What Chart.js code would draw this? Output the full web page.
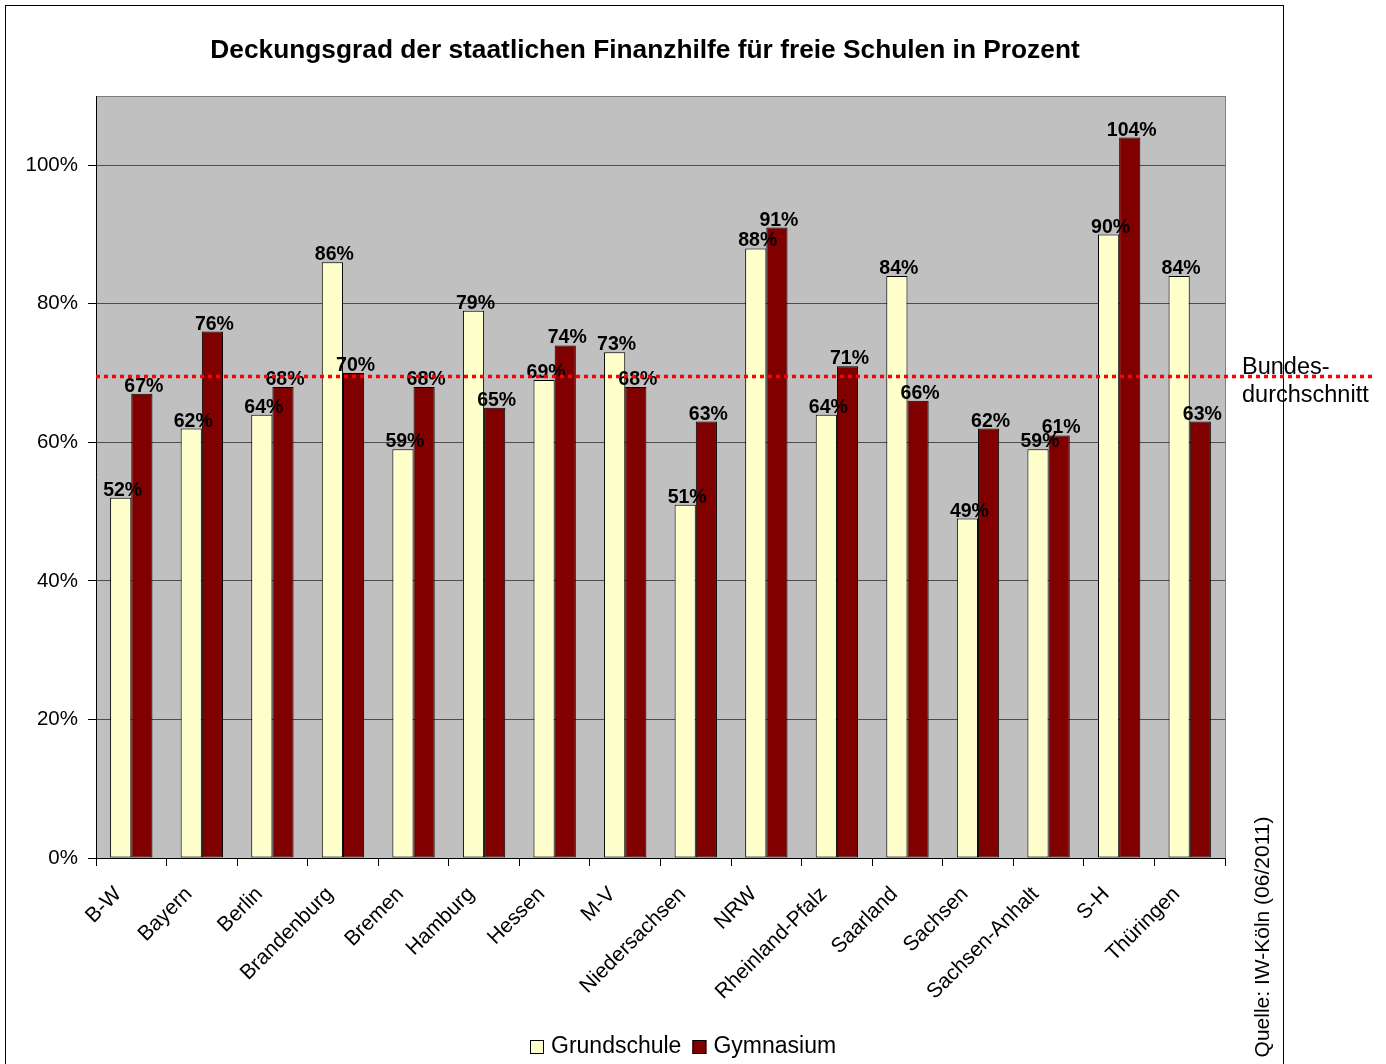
<!DOCTYPE html>
<html><head><meta charset="utf-8">
<script src="https://cdn.jsdelivr.net/npm/chart.js@4"></script>
<style>html,body{margin:0;padding:0;background:#fff}</style>
</head><body>
<canvas id="c" width="1386" height="1064" style="display:block;width:1386px;height:1064px"></canvas>
<script>
const FONT = '"Liberation Sans", Arial, Helvetica, sans-serif';
const title = 'Deckungsgrad der staatlichen Finanzhilfe für freie Schulen in Prozent';
const categories = ['B-W','Bayern','Berlin','Brandenburg','Bremen','Hamburg','Hessen','M-V','Niedersachsen','NRW','Rheinland-Pfalz','Saarland','Sachsen','Sachsen-Anhalt','S-H','Thüringen'];
const seriesNames = ['Grundschule','Gymnasium'];
const grundschule = [52,62,64,86,59,79,69,73,51,88,64,84,49,59,90,84];
const gymnasium   = [67,76,68,70,68,65,74,68,63,91,71,66,62,61,104,63];
const bundesdurchschnitt = 69.5;
const avgLabel = ['Bundes-','durchschnitt'];
const sourceText = 'Quelle: IW-Köln (06/2011)';
const yMin = 0, yMax = 110, yStep = 20;

const colors = ['#ffffcc', '#800000'];

const decor = {
  id: 'decor',
  beforeDraw(chart) {
    const {ctx, chartArea: a} = chart;
    ctx.save();
    ctx.fillStyle = '#ffffff';
    ctx.fillRect(0, 0, chart.width, chart.height);
    ctx.fillStyle = '#c0c0c0';
    ctx.fillRect(a.left, a.top, a.right - a.left, a.bottom - a.top);
    ctx.strokeStyle = '#808080';
    ctx.lineWidth = 1;
    ctx.strokeRect(a.left + 0.5, a.top + 0.5, a.right - a.left, a.bottom - a.top);
    ctx.strokeStyle = '#000';
    ctx.strokeRect(5.5, 5.5, 1278, 1070);
    ctx.restore();
  },
  afterDatasetsDraw(chart) {
    const {ctx, chartArea: a, scales} = chart;
    ctx.save();
    ctx.font = 'bold 19.5px ' + FONT;
    ctx.fillStyle = '#000';
    ctx.textAlign = 'center';
    ctx.textBaseline = 'alphabetic';
    chart.data.datasets.forEach((ds, di) => {
      const meta = chart.getDatasetMeta(di);
      meta.data.forEach((el, i) => {
        ctx.fillText(ds.data[i] + '%', el.x + 2, el.y - 2);
      });
    });
    const y = scales.y.getPixelForValue(bundesdurchschnitt);
    ctx.strokeStyle = '#ff0000';
    ctx.lineWidth = 3.5;
    ctx.setLineDash([4, 4]);
    ctx.beginPath();
    ctx.moveTo(a.left, y);
    ctx.lineTo(1375, y);
    ctx.stroke();
    ctx.setLineDash([]);
    ctx.font = '23.5px ' + FONT;
    ctx.textAlign = 'left';
    ctx.textBaseline = 'middle';
    ctx.fillText(avgLabel[0], 1242, y - 9);
    ctx.fillText(avgLabel[1], 1242, y + 19);
    ctx.restore();
  },
  afterDraw(chart) {
    const {ctx} = chart;
    ctx.save();
    ctx.font = 'bold 26.3px ' + FONT;
    ctx.fillStyle = '#000';
    ctx.textAlign = 'center';
    ctx.textBaseline = 'middle';
    ctx.fillText(title, 645, 51);
    ctx.font = '21px ' + FONT;
    ctx.translate(1263, 937);
    ctx.rotate(-Math.PI / 2);
    ctx.fillText(sourceText, 0, 0);
    ctx.restore();
    ctx.save();
    ctx.font = '23px ' + FONT;
    ctx.textBaseline = 'middle';
    ctx.textAlign = 'left';
    const ly = 1047;
    let x = 530;
    seriesNames.forEach((n, i) => {
      ctx.fillStyle = colors[i];
      ctx.fillRect(x, ly - 7, 14, 14);
      ctx.strokeStyle = '#000';
      ctx.lineWidth = 1;
      ctx.strokeRect(x + 0.5, ly - 6.5, 13, 13);
      ctx.fillStyle = '#000';
      ctx.fillText(n, x + 21, ly);
      x += 21 + ctx.measureText(n).width + 11;
    });
    ctx.restore();
  }
};

new Chart(document.getElementById('c'), {
  type: 'bar',
  data: {
    labels: categories,
    datasets: [
      { label: seriesNames[0], data: grundschule, backgroundColor: colors[0], borderColor: '#000', borderWidth: 1, borderSkipped: false },
      { label: seriesNames[1], data: gymnasium, backgroundColor: colors[1], borderColor: '#000', borderWidth: 1, borderSkipped: false }
    ]
  },
  options: {
    responsive: false,
    animation: false,
    devicePixelRatio: 1,
    layout: { padding: { left: 0, top: 96, right: 161, bottom: 0 } },
    datasets: { bar: { categoryPercentage: 0.6, barPercentage: 1.0 } },
    plugins: { legend: { display: false }, title: { display: false }, tooltip: { enabled: false } },
    scales: {
      x: {
        afterFit(s) { s.height = 206; },
        grid: { display: true, offset: true, drawOnChartArea: false, drawTicks: true, tickLength: 8, tickColor: '#000', color: '#000' },
        border: { display: true, color: '#000', width: 1 },
        ticks: { color: '#000', font: { family: FONT, size: 21 }, minRotation: 45, maxRotation: 45, autoSkip: false, padding: 16, labelOffset: -13 }
      },
      y: {
        min: yMin, max: yMax,
        afterFit(s) { s.width = 96; },
        grid: { color: '#4d4d4d', lineWidth: 1, tickLength: 8, tickColor: '#000' },
        border: { display: true, color: '#000', width: 1 },
        ticks: { stepSize: yStep, includeBounds: false, color: '#000', font: { family: FONT, size: 20.5 }, padding: 10, callback: v => v + '%' }
      }
    }
  },
  plugins: [decor]
});
</script>
</body></html>
